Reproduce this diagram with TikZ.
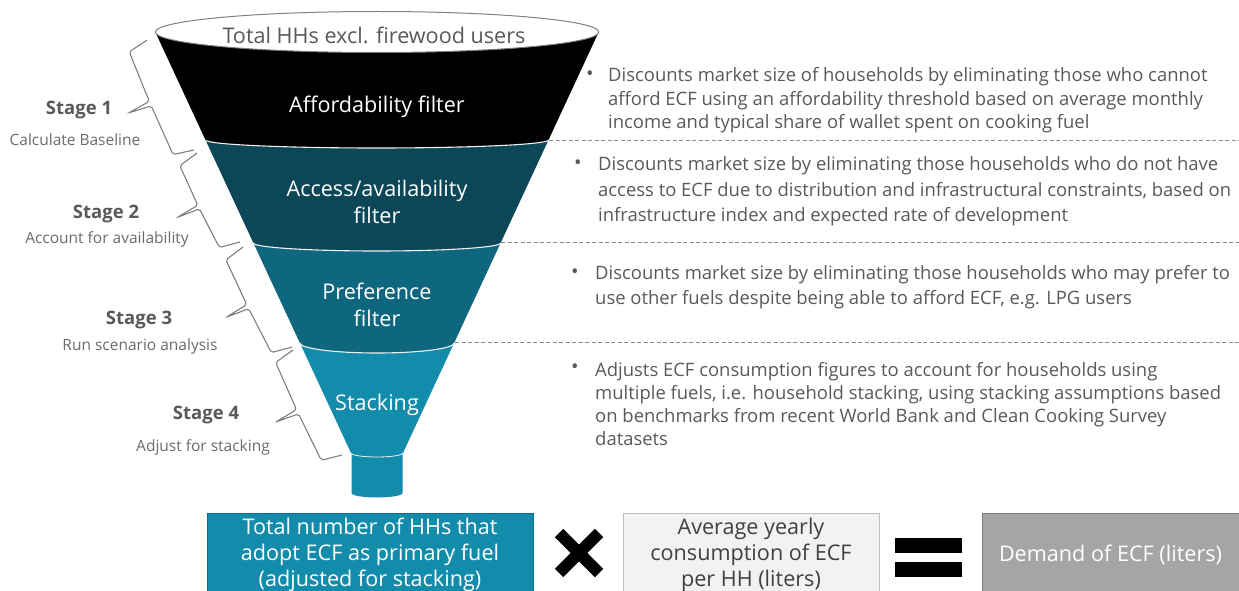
\documentclass[tikz,border=0pt]{standalone}
\usepackage{fontspec}
\setmainfont{Open Sans}
\usetikzlibrary{calc}
\definecolor{txtgray}{HTML}{595959}
\definecolor{subgray}{HTML}{6B6B6B}
\definecolor{bandA}{HTML}{000000}
\definecolor{bandB}{HTML}{0B4756}
\definecolor{bandC}{HTML}{0F677F}
\definecolor{bandD}{HTML}{138BAA}
\definecolor{boxAline}{HTML}{0E6E88}
\definecolor{boxBfill}{HTML}{F2F2F2}
\definecolor{boxBline}{HTML}{BFBFBF}
\definecolor{boxBtext}{HTML}{404040}
\definecolor{boxCfill}{HTML}{A5A5A5}
\definecolor{boxCline}{HTML}{7F7F7F}
\definecolor{sepgray}{HTML}{8C8C8C}
\definecolor{bracegray}{HTML}{7F7F7F}
\definecolor{rimgray}{HTML}{808080}
\newcommand\stagebrace[2]{%
  \draw[bracestyle] (#1)
    -- ($(#1)!4pt!(#2)!21pt!-90:(#2)$)
    -- ($(#1)!0.48!(#2)!22pt!-90:(#2)$)
    -- ($(#1)!0.5!(#2)!46pt!-90:(#2)$)
    -- ($(#1)!0.52!(#2)!22pt!-90:(#2)$)
    -- ($(#2)!4pt!(#1)!21pt!90:(#1)$)
    -- (#2);}
\begin{document}
\begin{tikzpicture}[x=1pt,y=-1pt,
  bandline/.style={draw=white!88!gray,line width=1.1pt},
  lbl/.style={font=\fontsize{21.6}{27}\selectfont,text=white,align=center,inner sep=0},
  stagetitle/.style={font=\bfseries\fontsize{18.5}{22}\selectfont,text=txtgray,inner sep=0},
  stagesub/.style={font=\fontsize{15.5}{18}\selectfont,text=subgray,inner sep=0},
  desc/.style={font=\fontsize{18.45}{#1}\selectfont,text=txtgray,align=left,anchor=west,inner sep=0},
  dot/.style={font=\fontsize{20}{22}\selectfont,text=txtgray,inner sep=0},
  sep/.style={draw=sepgray,line width=0.9pt,dash pattern=on 4pt off 2.5pt},
  bracestyle/.style={draw=bracegray,line width=1.1pt,rounded corners=2pt},
  resbox/.style={minimum height=84pt,inner sep=0,align=center,font=\fontsize{21.6}{26}\selectfont,line width=0.8pt}
]
\useasboundingbox (0,0) rectangle (1239,591);
\clip (0,0) rectangle (1239,591);

% spout
\fill[bandD] (351.5,450) -- (351.5,493) .. controls (351.5,495.5) and (362.9,497.5) .. (377,497.5)
  .. controls (391.1,497.5) and (402.5,495.5) .. (402.5,493) -- (402.5,450) -- cycle;
% band 4
\fill[bandD] (299.9,343) -- (351,453) .. controls (351,455.2) and (362.6,457) .. (377,457)
  .. controls (391.4,457) and (403,455.2) .. (403,453) -- (454.1,343) -- cycle;
% band 3
\fill[bandC] (253.4,243) -- (299.9,343) .. controls (299.9,348.5) and (334.4,353) .. (377,353)
  .. controls (419.6,353) and (454.1,348.5) .. (454.1,343) -- (500.6,243) -- cycle;
% band 2
\fill[bandB] (205.5,140) -- (253.4,243) .. controls (253.4,247.4) and (308.8,251) .. (377,251)
  .. controls (445.2,251) and (500.6,247.4) .. (500.6,243) -- (548.5,140) -- cycle;
% band 1
\fill[bandA] (155.3,32) -- (205.5,140) .. controls (205.5,144.4) and (282.3,148) .. (377,148)
  .. controls (471.7,148) and (548.5,144.4) .. (548.5,140) -- (598.7,32) -- cycle;
% boundary lines
\draw[bandline] (205.5,140) .. controls (205.5,144.4) and (282.3,148) .. (377,148)
  .. controls (471.7,148) and (548.5,144.4) .. (548.5,140);
\draw[bandline] (253.4,243) .. controls (253.4,247.4) and (308.8,251) .. (377,251)
  .. controls (445.2,251) and (500.6,247.4) .. (500.6,243);
\draw[bandline] (299.9,343) .. controls (299.9,348.5) and (334.4,353) .. (377,353)
  .. controls (419.6,353) and (454.1,348.5) .. (454.1,343);
\draw[bandline,line width=0.8pt] (351,453) .. controls (351,455.2) and (362.6,457) .. (377,457)
  .. controls (391.4,457) and (403,455.2) .. (403,453);
% top rim
\draw[fill=white,draw=rimgray,line width=1pt] (377,32) ellipse [x radius=221.7pt,y radius=20.5pt];

% funnel texts
\node[lbl,text=txtgray] (top) at (374,35) {Total HHs excl. firewood users};
\node[lbl] (aff) at (377,107) {Affordability filter};
\node[lbl] (acc) at (377,202) {Access/availability\\filter};
\node[lbl] (pref) at (377,305) {Preference\\filter};
\node[lbl] (stack) at (377,405) {Stacking};

% separators
\coordinate (e1) at (549,140); \coordinate (f1) at (1239,140);
\coordinate (e2) at (501,242); \coordinate (f2) at (1239,242);
\coordinate (e3) at (455,342); \coordinate (f3) at (1239,342);
\draw[sep] (e1) -- (f1);
\draw[sep] (e2) -- (f2);
\draw[sep] (e3) -- (f3);

% braces
\coordinate (s1t) at (147,40);  \coordinate (s1b) at (194,150);
\coordinate (s2t) at (197,153); \coordinate (s2b) at (240,242);
\coordinate (s3t) at (243,247); \coordinate (s3b) at (292,347);
\coordinate (s4t) at (293,350); \coordinate (s4b) at (342,455);
\stagebrace{s1t}{s1b}
\stagebrace{s2t}{s2b}
\stagebrace{s3t}{s3b}
\stagebrace{s4t}{s4b}

% stage labels
\node[stagetitle] (st1) at (79,110) {Stage 1};
\node[stagesub] (sb1) at (75,140) {Calculate Baseline};
\node[stagetitle] (st2) at (106,214) {Stage 2};
\node[stagesub] (sb2) at (107,239) {Account for availability};
\node[stagetitle] (st3) at (139,320) {Stage 3};
\node[stagesub] (sb3) at (140,346) {Run scenario analysis};
\node[stagetitle] (st4) at (206,415) {Stage 4};
\node[stagesub] (sb4) at (203,447) {Adjust for stacking};

% descriptions
\node[dot] (d1) at (590,76) {\textbullet};
\node[desc=23.5] (t1) at (608,100.5) {Discounts market size of households by eliminating those who cannot\\afford ECF using an affordability threshold based on average monthly\\income and typical share of wallet spent on cooking fuel};
\node[dot] (d2) at (578,165) {\textbullet};
\node[desc=25.5] (t2) at (598,191.5) {Discounts market size by eliminating those households who do not have\\access to ECF due to distribution and infrastructural constraints, based on\\infrastructure index and expected rate of development};
\node[dot] (d3) at (575,274) {\textbullet};
\node[desc=25] (t3) at (595,287.5) {Discounts market size by eliminating those households who may prefer to\\use other fuels despite being able to afford ECF, e.g. LPG users};
\node[dot] (d4) at (575,369) {\textbullet};
\node[desc=23] (t4) at (595,404.5) {Adjusts ECF consumption figures to account for households using\\multiple fuels, i.e. household stacking, using stacking assumptions based\\on benchmarks from recent World Bank and Clean Cooking Survey\\datasets};

% bottom equation
\node[resbox,fill=bandD,draw=boxAline,text=white,minimum width=326pt] (hh) at (370,555) {Total number of HHs that\\adopt ECF as primary fuel\\(adjusted for stacking)};
\node[resbox,fill=boxBfill,draw=boxBline,text=boxBtext,minimum width=256pt] (cons) at (751,555) {Average yearly\\consumption of ECF\\per HH (liters)};
\node[resbox,fill=boxCfill,draw=boxCline,text=white,minimum width=257pt] (dem) at (1110.5,555) {Demand of ECF (liters)};

% times sign
\draw[line width=12pt] (559,533) -- (599,573);
\draw[line width=12pt] (559,573) -- (599,533);
% equals sign
\fill[black] (895,538) rectangle (962,553);
\fill[black] (895,562) rectangle (962,577);
\end{tikzpicture}
\end{document}
